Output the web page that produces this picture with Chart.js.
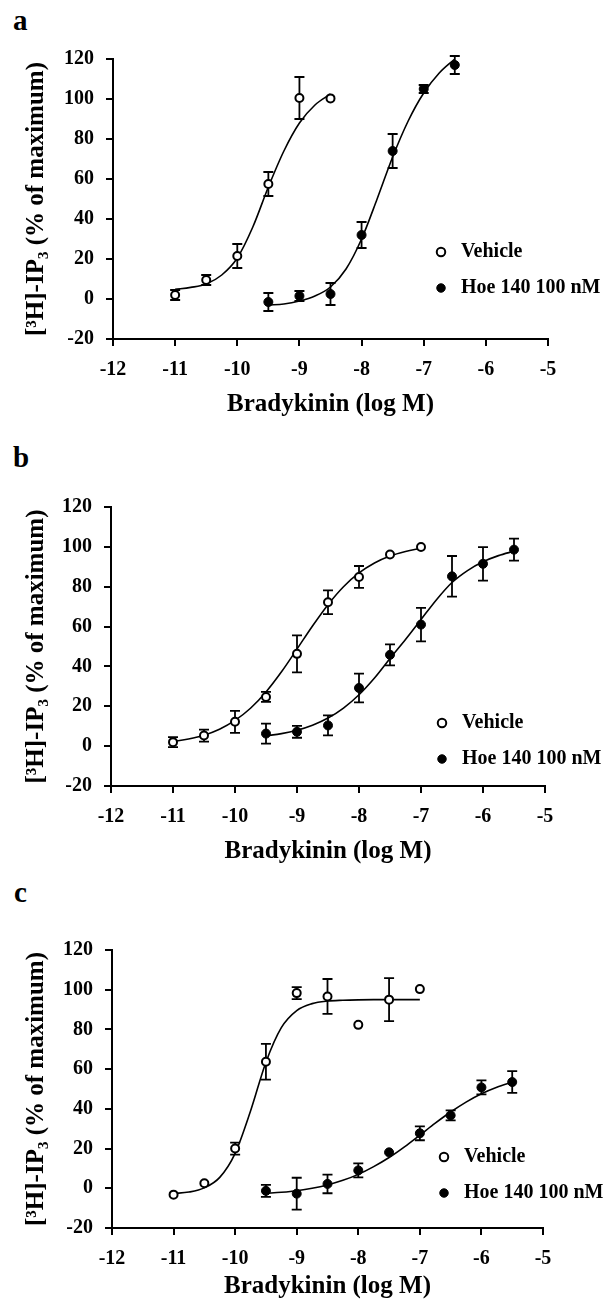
<!DOCTYPE html>
<html><head><meta charset="utf-8">
<script src="https://cdn.jsdelivr.net/npm/chart.js@4.4.0/dist/chart.umd.min.js"></script>
<style>
html,body{margin:0;padding:0;background:#fff;width:605px;height:1299px;overflow:hidden;position:relative;}
canvas{position:absolute;left:0;}
.lbl{position:absolute;font:bold 29px "Liberation Serif","Times New Roman",serif;line-height:28px;color:#000;}
</style></head><body>
<div class="lbl" style="left:13px;top:6px">a</div>
<div class="lbl" style="left:13px;top:443px">b</div>
<div class="lbl" style="left:14px;top:878px">c</div>
<canvas id="ca" width="605" height="430" style="top:0px"></canvas>
<canvas id="cb" width="605" height="450" style="top:420px"></canvas>
<canvas id="cc" width="605" height="449" style="top:850px"></canvas>
<script>
const FONT = '"Liberation Serif", "Times New Roman", "DejaVu Serif", serif';
const xTickValues = [-12, -11, -10, -9, -8, -7, -6, -5];
const yTickValues = [-20, 0, 20, 40, 60, 80, 100, 120];
const seriesNames = ['Vehicle', 'Hoe 140 100 nM'];
const xTitle = 'Bradykinin (log M)';
const yTitle = '[³H]-IP₃ (% of maximum)';

// Panel a
const aVehX = [-11, -10.5, -10, -9.5, -9, -8.5];
const aVehY = [2, 9.5, 21.5, 57.5, 100.5, 100.3];
const aVehErr = [2.5, 2.5, 6, 6, 10.5, 0];
const aHoeX = [-9.5, -9, -8.5, -8, -7.5, -7, -6.5];
const aHoeY = [-1.5, 1.5, 2.5, 32, 74, 105, 117];
const aHoeErr = [4.5, 2.5, 5.5, 6.5, 8.5, 2, 4.5];
const aVehFitX = [-11, -10.75, -10.5, -10.25, -10, -9.75, -9.5, -9.25, -9, -8.75, -8.5];
const aVehFitY = [4.8, 5.8, 7.5, 12, 20.5, 36, 56, 74, 88, 97, 102.5];
const aHoeFitX = [-9.5, -9.25, -9, -8.75, -8.5, -8.25, -8, -7.75, -7.5, -7.25, -7, -6.75, -6.5];
const aHoeFitY = [-3, -2.5, -1, 1.5, 6, 15, 30, 50, 71, 89, 103, 113, 120];

// Panel b
const bVehX = [-11, -10.5, -10, -9.5, -9, -8.5, -8, -7.5, -7];
const bVehY = [2, 5.3, 12.2, 24.7, 46.3, 72.2, 84.9, 96.2, 99.9];
const bVehErr = [2.5, 3, 5.5, 2.5, 9.3, 6, 5.5, 0, 0];
const bHoeX = [-9.5, -9, -8.5, -8, -7.5, -7, -6.5, -6, -5.5];
const bHoeY = [6.3, 7.2, 10.4, 29.2, 45.8, 61, 85.2, 91.5, 98.6];
const bHoeErr = [5, 3, 5, 7.2, 5.3, 8.4, 10.2, 8.4, 5.5];
const bVehFitX = [-11, -10.75, -10.5, -10.25, -10, -9.75, -9.5, -9.25, -9, -8.75, -8.5, -8.25, -8, -7.75, -7.5, -7.25, -7];
const bVehFitY = [2.3, 3.6, 5.5, 8.5, 12.9, 19, 27.2, 37.3, 48.7, 60.3, 71, 80, 86.9, 91.9, 95.4, 97.7, 99.3];
const bHoeFitX = [-9.5, -9.25, -9, -8.75, -8.5, -8.25, -8, -7.75, -7.5, -7.25, -7, -6.75, -6.5, -6.25, -6, -5.75, -5.5];
const bHoeFitY = [5.2, 6.3, 8, 10.5, 14.1, 19.1, 25.8, 34.2, 44, 53.5, 63.5, 73.5, 82.1, 88.1, 92.5, 95.6, 97.8];

// Panel c
const cVehX = [-11, -10.5, -10, -9.5, -9, -8.5, -8, -7.5, -7];
const cVehY = [-3.2, 2.5, 20, 63.7, 98.3, 96.6, 82.3, 95, 100.3];
const cVehErr = [0, 0, 3, 9, 3, 8.8, 0, 10.8, 0];
const cHoeX = [-9.5, -9, -8.5, -8, -7.5, -7, -6.5, -6, -5.5];
const cHoeY = [-1.3, -2.7, 2.2, 9, 18.1, 27.7, 36.7, 50.8, 53.5];
const cHoeErr = [3, 8, 4.7, 3.5, 0, 3.5, 2.5, 3.5, 5.5];
const cVehFitX = [-11, -10.75, -10.5, -10.25, -10, -9.75, -9.5, -9.25, -9, -8.75, -8.5, -8.25, -8, -7.75, -7.5, -7.25, -7];
const cVehFitY = [-2.6, -1.9, 0.2, 5.5, 17.6, 38.9, 63.5, 80.9, 89.5, 93, 94.3, 94.7, 94.9, 95, 95, 95, 95];
const cHoeFitX = [-9.5, -9.25, -9, -8.75, -8.5, -8.25, -8, -7.75, -7.5, -7.25, -7, -6.75, -6.5, -6.25, -6, -5.75, -5.5];
const cHoeFitY = [-2.6, -2, -1.2, 0, 1.7, 4, 7, 10.9, 15.5, 20.9, 26.8, 32.8, 38.4, 43.4, 47.6, 50.9, 53.4];

function pts(xs, ys) { return xs.map((x, i) => ({ x: x, y: ys[i] })); }

const errorBarPlugin = {
  id: 'errorBars',
  beforeDatasetsDraw(chart) {
    const ctx = chart.ctx, xs = chart.scales.x, ys = chart.scales.y;
    chart.data.datasets.forEach(ds => {
      if (!ds.errors) return;
      ctx.save();
      ctx.strokeStyle = '#000';
      ctx.lineWidth = 1.8;
      ds.data.forEach((p, i) => {
        const e = ds.errors[i];
        if (!e) return;
        const px = xs.getPixelForValue(p.x);
        const y1 = ys.getPixelForValue(p.y + e);
        const y2 = ys.getPixelForValue(p.y - e);
        ctx.beginPath();
        ctx.moveTo(px, y1); ctx.lineTo(px, y2);
        ctx.moveTo(px - 5, y1); ctx.lineTo(px + 5, y1);
        ctx.moveTo(px - 5, y2); ctx.lineTo(px + 5, y2);
        ctx.stroke();
      });
      ctx.restore();
    });
  }
};

const legendPlacer = {
  id: 'legendPlacer',
  afterLayout(chart, args, opts) {
    const lg = chart.legend;
    if (!lg || opts.left === undefined) return;
    lg.left = opts.left; lg.top = opts.top;
    lg.width = 200; lg.height = 120;
    lg.right = opts.left + 200; lg.bottom = opts.top + 120;
  }
};

function makePanel(id, d, lay) {
  const datasets = [
    { label: seriesNames[0], data: pts(d.vx, d.vy), errors: d.ve, showLine: false,
      pointRadius: 4, pointBorderWidth: 2, pointBackgroundColor: '#fff', pointBorderColor: '#000',
      backgroundColor: '#fff', borderColor: '#000' },
    { label: seriesNames[1], data: pts(d.hx, d.hy), errors: d.he, showLine: false,
      pointRadius: 4.5, pointBorderWidth: 1, pointBackgroundColor: '#000', pointBorderColor: '#000',
      backgroundColor: '#000', borderColor: '#000' },
    { label: 'fit1', data: pts(d.vfx, d.vfy), showLine: true, pointRadius: 0, borderColor: '#000',
      borderWidth: 1.6, cubicInterpolationMode: 'monotone', fill: false },
    { label: 'fit2', data: pts(d.hfx, d.hfy), showLine: true, pointRadius: 0, borderColor: '#000',
      borderWidth: 1.6, cubicInterpolationMode: 'monotone', fill: false }
  ];
  return new Chart(document.getElementById(id), {
    type: 'scatter',
    data: { datasets: datasets },
    plugins: [errorBarPlugin, legendPlacer],
    options: {
      responsive: false, animation: false, events: [],
      layout: { padding: { top: lay.top, left: 0, right: lay.right, bottom: 0 } },
      plugins: {
        tooltip: { enabled: false },
        legend: {
          position: 'chartArea', align: 'start',
          labels: {
            filter: item => item.datasetIndex < 2,
            usePointStyle: true, pointStyle: 'circle', boxWidth: 20, boxHeight: 6, padding: 16,
            color: '#000', font: { family: FONT, size: 20, weight: 'bold' }
          }
        },
        legendPlacer: { left: lay.legLeft, top: lay.legTop }
      },
      scales: {
        x: {
          type: 'linear', min: -12, max: -5,
          afterBuildTicks: s => { s.ticks = xTickValues.map(v => ({ value: v })); },
          afterFit: s => { s.height = lay.xH; },
          ticks: { color: '#000', padding: 12, maxRotation: 0, autoSkip: false,
            font: { family: FONT, size: 20, weight: 'bold' }, callback: v => String(v) },
          grid: { drawOnChartArea: false, drawTicks: true, tickLength: 7, color: '#000', lineWidth: 2 },
          border: { display: true, color: '#000', width: 2 },
          title: { display: true, text: xTitle, color: '#000',
            font: { family: FONT, size: 25, weight: 'bold', lineHeight: 0.75 },
            padding: { top: 0, bottom: lay.xPb } }
        },
        y: {
          type: 'linear', min: -20, max: 120,
          afterBuildTicks: s => { s.ticks = yTickValues.map(v => ({ value: v })); },
          afterFit: s => { s.width = lay.yW; },
          ticks: { color: '#000', padding: 12, autoSkip: false,
            font: { family: FONT, size: 20, weight: 'bold' }, callback: v => String(v) },
          grid: { drawOnChartArea: false, drawTicks: true, tickLength: 7, color: '#000', lineWidth: 2 },
          border: { display: true, color: '#000', width: 2 },
          title: { display: true, text: yTitle, color: '#000',
            font: { family: FONT, size: 25, weight: 'bold', lineHeight: 0.75 },
            padding: { top: 27, bottom: 0 } }
        }
      }
    }
  });
}

makePanel('ca',
  { vx: aVehX, vy: aVehY, ve: aVehErr, hx: aHoeX, hy: aHoeY, he: aHoeErr,
    vfx: aVehFitX, vfy: aVehFitY, hfx: aHoeFitX, hfy: aHoeFitY },
  { top: 59, right: 57, yW: 113, xH: 91, xPb: 16, legLeft: 415, legTop: 226 });
makePanel('cb',
  { vx: bVehX, vy: bVehY, ve: bVehErr, hx: bHoeX, hy: bHoeY, he: bHoeErr,
    vfx: bVehFitX, vfy: bVehFitY, hfx: bHoeFitX, hfy: bHoeFitY },
  { top: 87, right: 60, yW: 111, xH: 84, xPb: 9, legLeft: 416, legTop: 277 });
makePanel('cc',
  { vx: cVehX, vy: cVehY, ve: cVehErr, hx: cHoeX, hy: cHoeY, he: cHoeErr,
    vfx: cVehFitX, vfy: cVehFitY, hfx: cHoeFitX, hfy: cHoeFitY },
  { top: 100, right: 62, yW: 112, xH: 71, xPb: 3, legLeft: 418, legTop: 281 });
</script>
</body></html>
